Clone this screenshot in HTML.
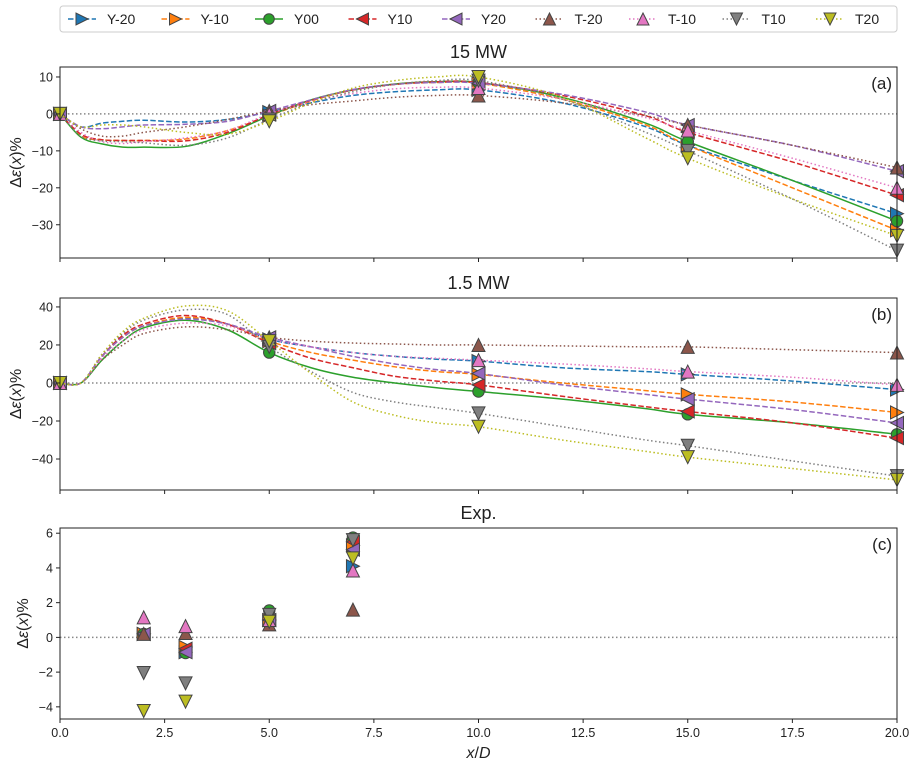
<!DOCTYPE html>
<html><head><meta charset="utf-8"><style>
body{margin:0;background:#fff;}
svg text{font-family:"Liberation Sans","DejaVu Sans",sans-serif;fill:#222;}
</style></head><body>
<svg id="chart" width="918" height="767" xmlns="http://www.w3.org/2000/svg"></svg>
<script>
// ---- data ----
const seriesNames = ["Y-20","Y-10","Y00","Y10","Y20","T-20","T-10","T10","T20"];
const xsSim = [0,0.5,1,1.5,2,3,4,5,6,7,8,9,10,12,14,15,17.5,20];
const markX = [0,5,10,15,20];
const a_Ym20 = [0,-3.5,-2.5,-2,-1.7,-2.2,-1.5,0.5,3,5,6,6.5,6.5,3,-3.5,-8.5,-18,-27];
const a_Ym10 = [0,-6,-7,-7.2,-7.2,-6.8,-4.5,-0.5,3.5,6.5,8,8.5,8.3,4,-3,-8.5,-20,-31.5];
const a_Y00  = [0,-6.3,-8.1,-9,-9,-8.8,-5.4,-0.5,3.8,6.5,8.1,8.7,8.5,4.5,-2.5,-7.5,-18,-29];
const a_Y10  = [0,-5.5,-7,-7.2,-7.2,-7.3,-5,-0.2,3.7,6.5,8,8.7,8.5,5,-0.5,-5,-13,-22];
const a_Y20  = [0,-3.5,-4,-3.5,-3,-2.8,-2,0.8,3.8,6.6,8,8.5,8.3,5.3,0.5,-3,-8.5,-15.5];
const a_Tm20 = [0,-4,-6,-6,-5,-3.5,-1.5,0.8,2.5,3.5,4.5,5,5,3,-0.5,-3,-8.5,-14.5];
const a_Tm10 = [0,-5,-7.5,-8,-7.5,-6.5,-4.5,0,3.3,5.5,6.8,7.2,7,4,-1,-4.5,-12,-20];
const a_T10  = [0,-6,-7.3,-7.5,-7.8,-8.5,-6.5,-1.5,3,6,8,9,9,4,-5,-10,-23,-37];
const a_T20  = [0,-3.5,-3,-3,-3.5,-5,-5.5,-2,3,7,9,10,10,4.5,-6.5,-12,-23,-33];
const b_Ym20 = [0,0,14,24,30,34,31,23,19,16,14,12.5,11.5,8,6,4.5,1,-3.5];
const b_Ym10 = [0,0,14,24,30,34.5,31,22,16,12,8.5,6,4.5,0,-4,-6,-10,-15.5];
const b_Y00  = [0,0,12,22,29,33,28,16,8,3,0,-2.5,-4.5,-8.5,-13.5,-16.5,-21,-27];
const b_Y10  = [0,0,14,25,31,35.5,31,21,13,8,3.5,1,-1,-7,-12.5,-15,-21,-29];
const b_Y20  = [0,0,14,24,30,33.5,31,24,19,14,10,7,5,-1,-6,-8.5,-14,-21];
const b_Tm20 = [0,0,12,20,26,29.5,28,24,22,21,20.5,20,20,19.5,19,19,17.5,16];
const b_Tm10 = [0,0,13,22,28,31.5,30,23,19,16,14,13,12,10,7.5,6,3,-1];
const b_T10  = [0,0,15,26,33,38.5,36,19,6,-5,-10,-13,-16,-23,-30,-33,-41,-49];
const b_T20  = [0,0,15,27,34,40.5,38,22,5,-10,-17,-21,-23,-30,-36,-39,-45,-51];
const xsExp = [2,3,5,7];
const c_Ym20 = [0.2,-0.85,1.0,4.1];
const c_Ym10 = [0.2,-0.55,1.0,5.3];
const c_Y00  = [0.2,-0.9,1.55,5.75];
const c_Y10  = [0.2,-0.65,1.0,5.5];
const c_Y20  = [0.2,-0.85,1.0,5.05];
const c_Tm20 = [0.2,0.25,0.75,1.6];
const c_Tm10 = [1.15,0.65,1.0,3.85];
const c_T10  = [-2.05,-2.65,1.3,5.6];
const c_T20  = [-4.24,-3.7,0.9,4.55];
const xTicks = [0,2.5,5,7.5,10,12.5,15,17.5,20];
const xTickLabels = ["0.0","2.5","5.0","7.5","10.0","12.5","15.0","17.5","20.0"];
const aTicks = [10,0,-10,-20,-30];
const bTicks = [40,20,0,-20,-40];
const cTicks = [6,4,2,0,-2,-4];

const aData=[a_Ym20,a_Ym10,a_Y00,a_Y10,a_Y20,a_Tm20,a_Tm10,a_T10,a_T20];
const bData=[b_Ym20,b_Ym10,b_Y00,b_Y10,b_Y20,b_Tm20,b_Tm10,b_T10,b_T20];
const cData=[c_Ym20,c_Ym10,c_Y00,c_Y10,c_Y20,c_Tm20,c_Tm10,c_T10,c_T20];

const colors=["#1f77b4","#ff7f0e","#2ca02c","#d62728","#9467bd","#8c564b","#e377c2","#7f7f7f","#bcbd22"];
const markers=[">",">","o","<","<","^","^","v","v"];
const dashes=["5.5,2.4","5.5,2.4","","5.5,2.4","5.5,2.4","1.5,2.5","1.5,2.5","1.5,2.5","1.5,2.5"];
const NS="http://www.w3.org/2000/svg";
const svg=document.getElementById('chart');
function mk(tag,attrs,parent){const e=document.createElementNS(NS,tag);for(const k in attrs)e.setAttribute(k,attrs[k]);(parent||svg).appendChild(e);return e;}
const X0=60,X1=897;
function xs(v){return X0+(v/20)*(X1-X0);}
function smoothPath(pts){
  let d='M'+pts[0][0]+','+pts[0][1];
  for(let i=0;i<pts.length-1;i++){
    const p0=pts[Math.max(0,i-1)],p1=pts[i],p2=pts[i+1],p3=pts[Math.min(pts.length-1,i+2)];
    const c1=[p1[0]+(p2[0]-p0[0])/6,p1[1]+(p2[1]-p0[1])/6];
    const c2=[p2[0]-(p3[0]-p1[0])/6,p2[1]-(p3[1]-p1[1])/6];
    d+=' C'+c1.join(',')+' '+c2.join(',')+' '+p2.join(',');
  }
  return d;
}
function markerShape(g,m,cx,cy,col,r){
  let e;
  if(m==="o"){e=mk('circle',{cx:cx,cy:cy,r:r*0.88,fill:col,stroke:"#444","stroke-width":1},g);}
  else{let p;
    if(m===">")p=[[cx+r,cy],[cx-r,cy-r],[cx-r,cy+r]];
    else if(m==="<")p=[[cx-r,cy],[cx+r,cy-r],[cx+r,cy+r]];
    else if(m==="^")p=[[cx,cy-r],[cx-r,cy+r],[cx+r,cy+r]];
    else p=[[cx,cy+r],[cx-r,cy-r],[cx+r,cy-r]];
    e=mk('polygon',{points:p.map(q=>q.join(',')).join(' '),fill:col,stroke:"#444","stroke-width":1},g);}
  
  
}
function panel(key,top,bot,ymin,ymax,ticks,title,label,data,xarr,lines,showXLabels){
  const ys=v=>bot-(v-ymin)/(ymax-ymin)*(bot-top);
  const g=mk('g',{});
  
  
  const z=mk('line',{x1:X0,x2:X1,y1:ys(0),y2:ys(0),stroke:"#888","stroke-width":1.5,"stroke-dasharray":"1.5,2.5"},g);
  
  
  data.forEach((arr,i)=>{
    const sg=mk('g',{},g);
    
    
    if(lines){
      const pts=arr.map((v,j)=>[xs(xarr[j]),ys(v)]);
      const pl=mk('path',{d:smoothPath(pts),fill:"none",stroke:colors[i],"stroke-width":1.5,"stroke-dasharray":dashes[i]},sg);
      
      
      markX.forEach(mx=>{const j=xarr.indexOf(mx);markerShape(sg,markers[i],xs(mx),ys(arr[j]),colors[i],6.5);});
    }else{
      arr.forEach((v,j)=>markerShape(sg,markers[i],xs(xarr[j]),ys(v),colors[i],6.5));
    }
  });
  const fr=mk('rect',{x:X0,y:top,width:X1-X0,height:bot-top,fill:"none",stroke:"#222","stroke-width":1},g);
  
  
  xTicks.forEach((t,k)=>{
    mk('line',{x1:xs(t),x2:xs(t),y1:bot,y2:bot+4,stroke:"#222"},g);
    if(showXLabels){const tx=mk('text',{x:xs(t),y:bot+18,"text-anchor":"middle","font-size":12.5},g);tx.textContent=xTickLabels[k];
      
      }
  });
  ticks.forEach(t=>{
    mk('line',{x1:X0-4,x2:X0,y1:ys(t),y2:ys(t),stroke:"#222"},g);
    const tx=mk('text',{x:X0-7,y:ys(t)+4.5,"text-anchor":"end","font-size":12.5},g);
    tx.textContent=(t<0?"\u2212"+(-t):""+t);
    
    
  });
  const tt=mk('text',{x:(X0+X1)/2,y:top-9,"text-anchor":"middle","font-size":18},g);tt.textContent=title;
  
  
  const lb=mk('text',{x:X1-5,y:top+22,"text-anchor":"end","font-size":17},g);lb.textContent=label;
  
  
  const yl=mk('text',{x:0,y:0,"text-anchor":"middle","font-size":16,transform:`translate(${key==='c'?28:21},${(top+bot)/2}) rotate(-90)`},g);
  yl.innerHTML='Δ<tspan font-style="italic">ε</tspan>(<tspan font-style="italic">x</tspan>)%';
  
  
}
panel('a',67,258,-39,12.7,aTicks,"15 MW","(a)",aData,xsSim,true,false);
panel('b',298,490,-56.3,44.7,bTicks,"1.5 MW","(b)",bData,xsSim,true,false);
panel('c',528,719,-4.7,6.3,cTicks,"Exp.","(c)",cData,xsExp,false,true);
const xl=mk('text',{x:(X0+X1)/2,y:758,"text-anchor":"middle","font-size":16});
xl.innerHTML='<tspan font-style="italic">x</tspan>/<tspan font-style="italic">D</tspan>';


const lg=mk('g',{});


mk('rect',{x:60,y:6,width:837,height:26,rx:3,fill:"#fff",stroke:"#ccc"},lg);
seriesNames.forEach((n,i)=>{
  const eg=mk('g',{},lg);
  
  
  const x=60+i*93.5+8;
  mk('line',{x1:x,x2:x+28,y1:19,y2:19,stroke:colors[i],"stroke-width":1.5,"stroke-dasharray":dashes[i]},eg);
  markerShape(eg,markers[i],x+14,19,colors[i],6);
  const t=mk('text',{x:x+39,y:24,"font-size":14},eg);t.textContent=n;
});
</script>
</body></html>
